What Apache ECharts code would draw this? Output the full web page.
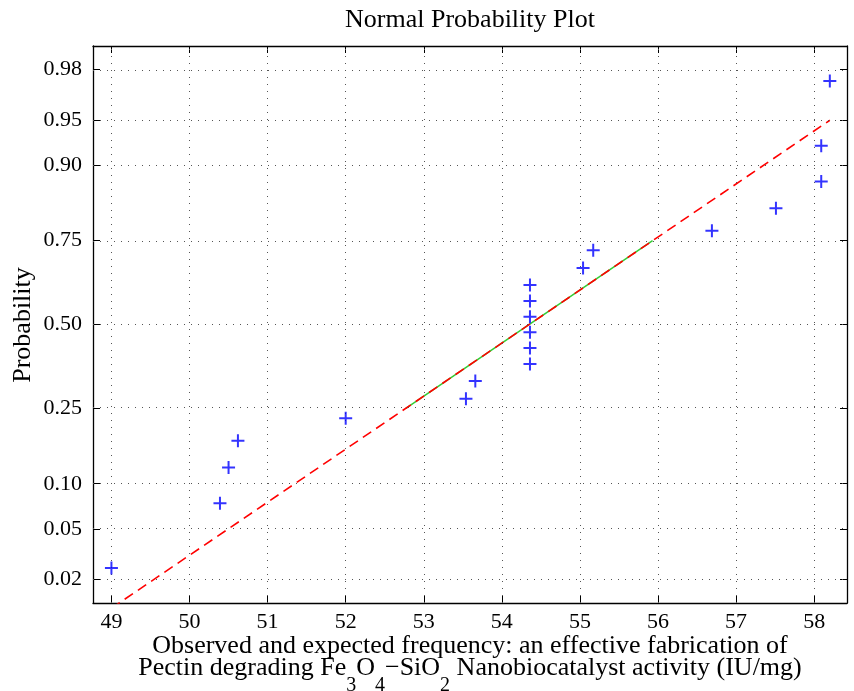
<!DOCTYPE html>
<html>
<head>
<meta charset="utf-8">
<script src="https://cdn.jsdelivr.net/npm/echarts@6/dist/echarts.min.js"></script>
<style>html,body{margin:0;padding:0;background:#fff;}#c{width:854px;height:691px;}</style>
</head>
<body>
<div id="c"></div>
<script>
// ---- data ----
const observedX = [49.0, 50.39, 50.5, 50.62, 52.0, 53.54, 53.66, 54.36, 54.36, 54.36, 54.36, 54.36, 54.36, 55.04, 55.17, 56.69, 57.51, 58.09, 58.09, 58.2];
const probabilities = [0.025, 0.075, 0.125, 0.175, 0.225, 0.275, 0.325, 0.375, 0.425, 0.475, 0.525, 0.575, 0.625, 0.675, 0.725, 0.775, 0.825, 0.875, 0.925, 0.975];
const xTicks = [49, 50, 51, 52, 53, 54, 55, 56, 57, 58];
const probTicks = [0.02, 0.05, 0.10, 0.25, 0.50, 0.75, 0.90, 0.95, 0.98];
const probTickLabels = ['0.02', '0.05', '0.10', '0.25', '0.50', '0.75', '0.90', '0.95', '0.98'];
const xRange = [48.764, 58.42];
const probRange = [0.0125, 0.9875];

const FONT = '"Liberation Serif", "Times New Roman", serif';

// inverse normal CDF (probability scale transform)
function norminv(p) {
  const a = [-3.969683028665376e+01, 2.209460984245205e+02, -2.759285104469687e+02, 1.383577518672690e+02, -3.066479806614716e+01, 2.506628277459239e+00];
  const b = [-5.447609879822406e+01, 1.615858368580409e+02, -1.556989798598866e+02, 6.680131188771972e+01, -1.328068155288572e+01];
  const c = [-7.784894002430293e-03, -3.223964580411365e-01, -2.400758277161838e+00, -2.549732539343734e+00, 4.374664141464968e+00, 2.938163982698783e+00];
  const d = [7.784695709041462e-03, 3.224671290700398e-01, 2.445134137142996e+00, 3.754408661907416e+00];
  const pl = 0.02425, ph = 1 - pl;
  let q, r;
  if (p < pl) {
    q = Math.sqrt(-2 * Math.log(p));
    return (((((c[0]*q+c[1])*q+c[2])*q+c[3])*q+c[4])*q+c[5]) / ((((d[0]*q+d[1])*q+d[2])*q+d[3])*q+1);
  }
  if (p <= ph) {
    q = p - 0.5; r = q * q;
    return (((((a[0]*r+a[1])*r+a[2])*r+a[3])*r+a[4])*r+a[5])*q / (((((b[0]*r+b[1])*r+b[2])*r+b[3])*r+b[4])*r+1);
  }
  q = Math.sqrt(-2 * Math.log(1 - p));
  return -(((((c[0]*q+c[1])*q+c[2])*q+c[3])*q+c[4])*q+c[5]) / ((((d[0]*q+d[1])*q+d[2])*q+d[3])*q+1);
}

const zTicks = probTicks.map(norminv);
const yMin = norminv(probRange[0]), yMax = norminv(probRange[1]);

// reference line through the quartiles (as in normplot)
const sorted = observedX.slice().sort((u, v) => u - v);
function prctile(arr, pct) {
  const n = arr.length;
  const pos = pct / 100 * n + 0.5;
  const lo = Math.floor(pos), frac = pos - lo;
  if (lo < 1) return arr[0];
  if (lo >= n) return arr[n - 1];
  return arr[lo - 1] + frac * (arr[lo] - arr[lo - 1]);
}
const q1 = prctile(sorted, 25), q3 = prctile(sorted, 75);
const zq1 = norminv(0.25), zq3 = norminv(0.75);
const slope = (zq3 - zq1) / (q3 - q1);
const lineZ = x => zq1 + slope * (x - q1);
const xMinData = sorted[0], xMaxData = sorted[sorted.length - 1];

const scatterData = observedX.map((x, i) => [x, norminv(probabilities[i])]);
const dashedData = [[xMinData, lineZ(xMinData)], [xMaxData, lineZ(xMaxData)]];
const solidData = [[q1, lineZ(q1)], [q3, lineZ(q3)]];

const chart = echarts.init(document.getElementById('c'), null, {renderer: 'canvas'});

const gridLineStyle = {type: [1, 6], color: '#555', width: 1};

function labelFor(v) {
  let best = 0, bd = Infinity;
  zTicks.forEach((z, i) => { const dd = Math.abs(z - v); if (dd < bd) { bd = dd; best = i; } });
  return probTickLabels[best];
}

const option = {
  animation: false,
  backgroundColor: '#fff',
  grid: {left: 93, right: 7, top: 46, bottom: 88, containLabel: false},
  xAxis: [{
    type: 'value', min: xRange[0], max: xRange[1], position: 'bottom',
    axisLine: {show: true, onZero: false, lineStyle: {color: '#000', width: 1.3}},
    axisTick: {show: true, inside: true, length: 7, customValues: xTicks, lineStyle: {color: '#000'}},
    axisLabel: {show: true, customValues: xTicks, margin: 8, fontSize: 22, fontFamily: FONT, color: '#000',
      formatter: v => String(Math.round(v))},
    splitLine: {show: false}
  }, {
    type: 'value', min: xRange[0], max: xRange[1], position: 'top',
    axisLine: {show: true, onZero: false, lineStyle: {color: '#000', width: 1.3}},
    axisTick: {show: true, inside: true, length: 7, customValues: xTicks, lineStyle: {color: '#000'}},
    axisLabel: {show: false},
    splitLine: {show: false}
  }],
  yAxis: [{
    type: 'value', min: yMin, max: yMax, position: 'left',
    axisLine: {show: true, onZero: false, lineStyle: {color: '#000', width: 1.3}},
    axisTick: {show: true, inside: true, length: 7, customValues: zTicks, lineStyle: {color: '#000'}},
    axisLabel: {show: true, customValues: zTicks, margin: 11, fontSize: 22, fontFamily: FONT, color: '#000',
      formatter: v => labelFor(v)},
    splitLine: {show: false}
  }, {
    type: 'value', min: yMin, max: yMax, position: 'right',
    axisLine: {show: true, onZero: false, lineStyle: {color: '#000', width: 1.3}},
    axisTick: {show: true, inside: true, length: 7, customValues: zTicks, lineStyle: {color: '#000'}},
    axisLabel: {show: false},
    splitLine: {show: false}
  }],
  series: [
    {
      type: 'line', data: [], z: 1, silent: true,
      markLine: {
        silent: true, symbol: 'none', animation: false,
        label: {show: false},
        lineStyle: gridLineStyle,
        data: xTicks.map(x => ({xAxis: x})).concat(zTicks.map(z => ({yAxis: z})))
      }
    },
    {
      type: 'line', data: solidData, z: 3, clip: true, symbol: 'none', silent: true,
      lineStyle: {color: '#33cc33', width: 1.5, type: 'solid'}
    },
    {
      type: 'line', data: dashedData, z: 4, clip: true, symbol: 'none', silent: true,
      lineStyle: {color: '#ff0000', width: 1.6, type: [10, 6]}
    },
    {
      type: 'scatter', data: scatterData, z: 5, silent: true,
      symbol: 'path://M0,5L13,5L13,7L0,7ZM5.5,-0.5L7.5,-0.5L7.5,12.5L5.5,12.5Z',
      symbolSize: 13,
      itemStyle: {color: '#0000ff'}
    }
  ],
  graphic: [
    {type: 'text', x: 470, y: 20, silent: true,
      style: {text: 'Normal Probability Plot', fontSize: 26, fontFamily: FONT, fill: '#000', align: 'center', verticalAlign: 'middle'}},
    {type: 'text', x: 23, y: 325, rotation: Math.PI / 2, silent: true,
      style: {text: 'Probability', fontSize: 26, fontFamily: FONT, fill: '#000', align: 'center', verticalAlign: 'middle'}},
    {type: 'text', x: 470, y: 646, silent: true,
      style: {text: 'Observed and expected frequency: an effective fabrication of', fontSize: 26, fontFamily: FONT, fill: '#000', align: 'center', verticalAlign: 'middle'}},
    {type: 'text', x: 470, y: 655, silent: true,
      style: {
        text: '{n|Pectin degrading Fe}{s|3}{n|O}{s|4}{n|\u2212SiO}{s|2}{n| Nanobiocatalyst activity (IU/mg)}',
        align: 'center', verticalAlign: 'top', fill: '#000',
        rich: {
          n: {fontSize: 26, fontFamily: FONT, lineHeight: 28, verticalAlign: 'top', fill: '#000'},
          s: {fontSize: 20, fontFamily: FONT, lineHeight: 41, verticalAlign: 'bottom', fill: '#000'}
        }
      }}
  ]
};
chart.setOption(option);
</script>
</body>
</html>
